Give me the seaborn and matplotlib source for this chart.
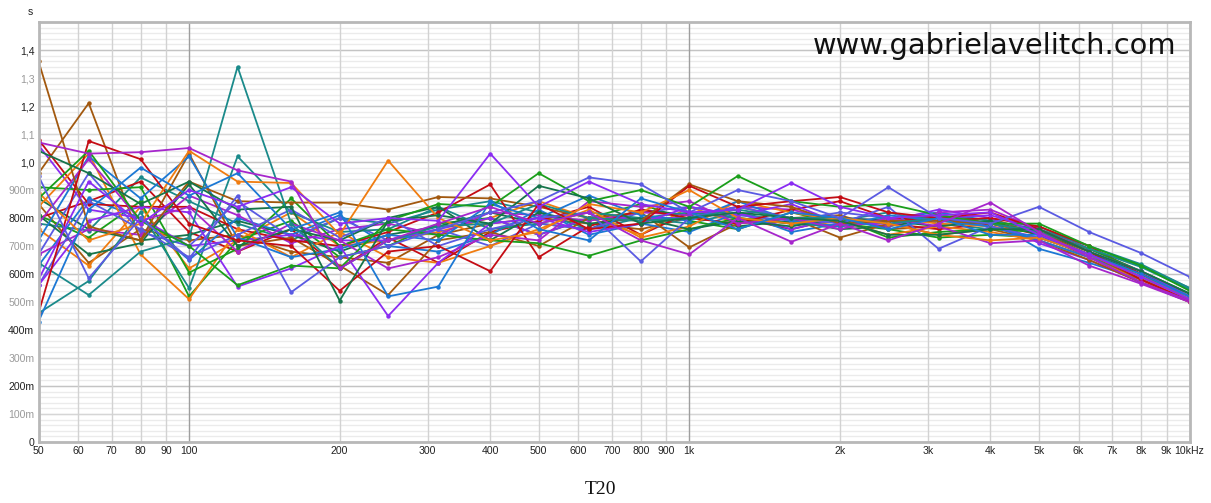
import matplotlib
matplotlib.use("Agg")
import matplotlib.pyplot as plt
import pandas as pd
import seaborn as sns
from matplotlib.ticker import FixedLocator, NullLocator

# Third-octave band centres (Hz)
freqs = [50, 63, 80, 100, 125, 160, 200, 250, 315, 400, 500, 630,
         800, 1000, 1250, 1600, 2000, 2500, 3150, 4000, 5000, 6300, 8000, 10000]

# Axis ticks and labels
x_ticks = [50, 60, 70, 80, 90, 100, 200, 300, 400, 500, 600, 700, 800, 900,
           1000, 2000, 3000, 4000, 5000, 6000, 7000, 8000, 9000, 10000]
x_labels = ["50", "60", "70", "80", "90", "100", "200", "300", "400", "500",
            "600", "700", "800", "900", "1k", "2k", "3k", "4k", "5k", "6k",
            "7k", "8k", "9k", "10kHz"]
y_ticks = [0.0, 0.1, 0.2, 0.3, 0.4, 0.5, 0.6, 0.7, 0.8, 0.9, 1.0, 1.1, 1.2, 1.3, 1.4]
y_labels = ["0", "100m", "200m", "300m", "400m", "500m", "600m", "700m",
            "800m", "900m", "1,0", "1,1", "1,2", "1,3", "1,4"]

# T20 per measurement position (s)
brown_a = [1.36, 0.77, 0.72, 0.93, 0.86, 0.855, 0.855, 0.83, 0.875, 0.87, 0.84, 0.80,
           0.79, 0.92, 0.86, 0.84, 0.78, 0.79, 0.79, 0.78, 0.75, 0.67, 0.58, 0.51]
brown_b = [0.96, 1.21, 0.72, 1.03, 0.70, 0.73, 0.63, 0.525, 0.72, 0.75, 0.70, 0.80,
           0.82, 0.695, 0.78, 0.80, 0.73, 0.78, 0.74, 0.76, 0.72, 0.65, 0.57, 0.50]
brown_c = [0.85, 0.64, 0.76, 0.72, 0.74, 0.68, 0.66, 0.64, 0.74, 0.78, 0.80, 0.78,
           0.76, 0.80, 0.84, 0.80, 0.81, 0.76, 0.77, 0.80, 0.74, 0.66, 0.57, 0.505]
teal_a = [0.64, 0.525, 0.68, 0.73, 1.34, 0.78, 0.62, 0.72, 0.77, 0.78, 0.85, 0.80,
          0.79, 0.80, 0.83, 0.80, 0.80, 0.78, 0.80, 0.78, 0.75, 0.69, 0.63, 0.55]
teal_b = [0.46, 0.575, 0.82, 0.55, 1.02, 0.82, 0.75, 0.76, 0.84, 0.76, 0.78, 0.82,
          0.80, 0.82, 0.80, 0.78, 0.77, 0.79, 0.81, 0.79, 0.76, 0.70, 0.635, 0.55]
teal_c = [0.78, 0.755, 0.945, 0.86, 0.78, 0.72, 0.80, 0.78, 0.83, 0.86, 0.82, 0.76,
          0.80, 0.78, 0.82, 0.78, 0.79, 0.82, 0.78, 0.76, 0.77, 0.69, 0.625, 0.545]
red_a = [0.46, 1.075, 1.01, 0.78, 0.72, 0.70, 0.54, 0.68, 0.70, 0.61, 0.85, 0.76,
         0.78, 0.915, 0.84, 0.86, 0.875, 0.82, 0.80, 0.82, 0.76, 0.68, 0.58, 0.505]
red_b = [1.08, 0.85, 0.84, 0.84, 0.76, 0.72, 0.70, 0.75, 0.82, 0.92, 0.66, 0.77,
         0.83, 0.80, 0.78, 0.83, 0.86, 0.80, 0.79, 0.80, 0.77, 0.70, 0.60, 0.52]
red_c = [0.80, 0.86, 0.93, 0.75, 0.68, 0.76, 0.62, 0.73, 0.64, 0.75, 0.79, 0.84,
         0.74, 0.82, 0.80, 0.76, 0.80, 0.78, 0.76, 0.78, 0.74, 0.67, 0.59, 0.51]
orange_a = [0.89, 0.72, 0.78, 1.04, 0.93, 0.925, 0.74, 1.005, 0.80, 0.72, 0.75, 0.85,
            0.82, 0.90, 0.80, 0.78, 0.80, 0.78, 0.74, 0.72, 0.73, 0.67, 0.59, 0.51]
orange_b = [0.84, 1.03, 0.67, 0.51, 0.76, 0.66, 0.75, 0.66, 0.64, 0.70, 0.76, 0.83,
            0.73, 0.77, 0.86, 0.82, 0.79, 0.74, 0.77, 0.75, 0.72, 0.66, 0.58, 0.50]
orange_c = [0.76, 0.63, 0.84, 0.62, 0.72, 0.82, 0.70, 0.72, 0.75, 0.80, 0.86, 0.80,
            0.74, 0.84, 0.78, 0.80, 0.77, 0.80, 0.78, 0.77, 0.75, 0.68, 0.60, 0.52]
green_a = [0.87, 1.04, 0.79, 0.70, 0.56, 0.63, 0.62, 0.79, 0.85, 0.84, 0.96, 0.86,
           0.90, 0.84, 0.95, 0.86, 0.84, 0.85, 0.81, 0.78, 0.78, 0.70, 0.63, 0.54]
green_b = [0.91, 0.90, 0.91, 0.605, 0.69, 0.87, 0.70, 0.76, 0.74, 0.72, 0.71, 0.665,
           0.72, 0.76, 0.80, 0.78, 0.80, 0.73, 0.75, 0.76, 0.75, 0.69, 0.61, 0.53]
green_c = [0.81, 0.73, 0.86, 0.52, 0.72, 0.79, 0.66, 0.70, 0.78, 0.80, 0.74, 0.80,
           0.85, 0.79, 0.76, 0.82, 0.78, 0.76, 0.73, 0.74, 0.73, 0.67, 0.60, 0.52]
dkgreen_a = [1.04, 0.96, 0.85, 0.93, 0.83, 0.84, 0.505, 0.79, 0.81, 0.78, 0.915, 0.87,
             0.78, 0.80, 0.82, 0.80, 0.79, 0.74, 0.74, 0.76, 0.76, 0.68, 0.61, 0.53]
dkgreen_b = [0.81, 0.67, 0.71, 0.92, 0.70, 0.76, 0.72, 0.80, 0.84, 0.72, 0.82, 0.78,
             0.80, 0.76, 0.79, 0.77, 0.80, 0.79, 0.77, 0.79, 0.74, 0.67, 0.59, 0.52]
dkgreen_c = [0.87, 0.76, 0.72, 0.74, 0.79, 0.74, 0.68, 0.74, 0.77, 0.82, 0.78, 0.76,
             0.83, 0.81, 0.77, 0.79, 0.76, 0.77, 0.80, 0.78, 0.75, 0.68, 0.60, 0.53]
blue_a = [0.43, 0.83, 0.98, 0.88, 0.96, 0.76, 0.82, 0.52, 0.555, 0.86, 0.76, 0.72,
          0.87, 0.82, 0.76, 0.82, 0.80, 0.76, 0.80, 0.74, 0.74, 0.67, 0.60, 0.52]
blue_b = [0.72, 1.02, 0.87, 1.02, 0.73, 0.66, 0.69, 0.74, 0.72, 0.85, 0.80, 0.88,
          0.81, 0.79, 0.86, 0.79, 0.77, 0.81, 0.79, 0.77, 0.72, 0.66, 0.59, 0.51]
blue_c = [0.63, 0.87, 0.80, 0.65, 0.80, 0.74, 0.81, 0.70, 0.68, 0.74, 0.83, 0.74,
          0.78, 0.75, 0.82, 0.75, 0.78, 0.80, 0.82, 0.79, 0.69, 0.64, 0.58, 0.51]
slate_a = [0.95, 0.585, 0.80, 0.655, 0.88, 0.535, 0.66, 0.70, 0.76, 0.82, 0.86, 0.945,
           0.92, 0.82, 0.90, 0.86, 0.80, 0.91, 0.80, 0.78, 0.84, 0.75, 0.675, 0.59]
slate_b = [0.56, 0.86, 0.76, 0.66, 0.74, 0.83, 0.73, 0.80, 0.70, 0.76, 0.80, 0.82,
           0.645, 0.80, 0.84, 0.80, 0.78, 0.84, 0.69, 0.77, 0.73, 0.67, 0.59, 0.52]
slate_c = [0.67, 0.96, 0.75, 0.70, 0.86, 0.73, 0.80, 0.72, 0.76, 0.70, 0.78, 0.76,
           0.82, 0.84, 0.81, 0.79, 0.82, 0.80, 0.80, 0.77, 0.72, 0.66, 0.59, 0.51]
violet_a = [0.58, 0.93, 0.78, 0.90, 0.84, 0.91, 0.78, 0.80, 0.79, 1.03, 0.84, 0.93,
            0.85, 0.82, 0.83, 0.925, 0.84, 0.80, 0.81, 0.82, 0.74, 0.67, 0.59, 0.51]
violet_b = [0.56, 0.79, 0.84, 0.82, 0.555, 0.62, 0.70, 0.45, 0.64, 0.78, 0.80, 0.75,
            0.78, 0.84, 0.81, 0.85, 0.78, 0.78, 0.80, 0.81, 0.76, 0.68, 0.61, 0.52]
violet_c = [1.06, 0.83, 0.80, 0.70, 0.72, 0.74, 0.72, 0.72, 0.76, 0.80, 0.74, 0.80,
            0.80, 0.80, 0.82, 0.76, 0.80, 0.79, 0.83, 0.80, 0.71, 0.65, 0.57, 0.50]
purple_a = [1.07, 1.03, 1.035, 1.05, 0.97, 0.93, 0.62, 0.72, 0.78, 0.84, 0.78, 0.82,
            0.72, 0.67, 0.80, 0.715, 0.78, 0.72, 0.78, 0.855, 0.75, 0.66, 0.57, 0.505]
purple_b = [0.78, 1.01, 0.79, 0.84, 0.68, 0.78, 0.72, 0.62, 0.66, 0.74, 0.72, 0.86,
            0.84, 0.86, 0.78, 0.80, 0.76, 0.80, 0.77, 0.71, 0.72, 0.63, 0.565, 0.50]
purple_c = [0.67, 0.76, 0.74, 0.88, 0.81, 0.71, 0.76, 0.78, 0.74, 0.82, 0.81, 0.79,
            0.82, 0.81, 0.84, 0.83, 0.79, 0.77, 0.82, 0.83, 0.76, 0.69, 0.61, 0.53]

RED, ORANGE, BROWN = "#c40c14", "#f07c10", "#a2580e"
GREEN, DKGREEN, TEAL = "#1a9e1a", "#15744a", "#1a8a8a"
BLUE, SLATE, VIOLET, PURPLE = "#1c78d4", "#5a5ae2", "#8a2cf2", "#a626cc"

curves = [
    ("brown_c", BROWN, brown_c), ("teal_c", TEAL, teal_c), ("red_c", RED, red_c),
    ("orange_c", ORANGE, orange_c), ("green_c", GREEN, green_c),
    ("dkgreen_c", DKGREEN, dkgreen_c), ("blue_c", BLUE, blue_c),
    ("slate_c", SLATE, slate_c), ("violet_c", VIOLET, violet_c),
    ("purple_c", PURPLE, purple_c),
    ("brown_b", BROWN, brown_b), ("teal_b", TEAL, teal_b), ("red_b", RED, red_b),
    ("orange_b", ORANGE, orange_b), ("green_b", GREEN, green_b),
    ("dkgreen_b", DKGREEN, dkgreen_b), ("blue_b", BLUE, blue_b),
    ("slate_b", SLATE, slate_b), ("violet_b", VIOLET, violet_b),
    ("purple_b", PURPLE, purple_b),
    ("brown_a", BROWN, brown_a), ("teal_a", TEAL, teal_a), ("red_a", RED, red_a),
    ("orange_a", ORANGE, orange_a), ("green_a", GREEN, green_a),
    ("dkgreen_a", DKGREEN, dkgreen_a), ("blue_a", BLUE, blue_a),
    ("slate_a", SLATE, slate_a), ("violet_a", VIOLET, violet_a),
    ("purple_a", PURPLE, purple_a),
]

rows = []
for name, _, vals in curves:
    for f, v in zip(freqs, vals):
        rows.append({"position": name, "freq": f, "t20": v})
df = pd.DataFrame(rows)
palette = {name: col for name, col, _ in curves}

sns.set_style("white")
plt.rcParams["font.family"] = ["Liberation Sans", "DejaVu Sans"]

W, H = 1211, 503
fig = plt.figure(figsize=(W / 100, H / 100), dpi=100)
x0, x1, ytop, ybot = 38.5, 1189.5, 22, 442
ax = fig.add_axes([x0 / W, (H - ybot) / H, (x1 - x0) / W, (ybot - ytop) / H])

ax.set_xscale("log")
ax.set_xlim(50, 10000)
ax.set_ylim(0, 1.5)

# background grid
for v in [i * 0.02 for i in range(76)]:
    ax.axhline(v, color="#ebebeb", lw=1.0, zorder=0)
for v in y_ticks:
    ax.axhline(v, color="#d6d6d6" if round(v * 10) % 2 else "#c4c4c4", lw=1.0, zorder=0)
for f in x_ticks:
    strong = f in (100, 1000)
    ax.axvline(f, color="#9e9e9e" if strong else "#d2d2d2", lw=1.0, zorder=0.5)

sns.lineplot(data=df, x="freq", y="t20", hue="position", palette=palette,
             units="position", estimator=None, sort=False, legend=False,
             marker="o", markersize=3.2, markeredgewidth=0, linewidth=1.3, ax=ax)

ax.xaxis.set_major_locator(FixedLocator(x_ticks))
ax.xaxis.set_minor_locator(NullLocator())
ax.set_xticklabels(x_labels)
ax.set_yticks(y_ticks)
ax.set_yticklabels(y_labels)
ax.tick_params(axis="both", length=0, labelsize=7.6, colors="#222222")
ax.tick_params(axis="x", pad=3)
ax.tick_params(axis="y", pad=3)
for i, lab in enumerate(ax.get_yticklabels()):
    lab.set_color("#222222" if i % 2 == 0 else "#9a9a9a")
ax.set_xlabel("")
ax.set_ylabel("")

for side in ("left", "bottom", "right", "top"):
    ax.spines[side].set_visible(True)
    ax.spines[side].set_color("#b8b8b8")
    ax.spines[side].set_linewidth(2.0)

fig.text(30 / W, 1 - 12 / H, "s", fontsize=7.6, color="#222222", ha="center", va="center")

ax.text(1176 / W, 1 - 46 / H, "www.gabrielavelitch.com", transform=fig.transFigure,
        fontsize=20.8, family=["DejaVu Sans"], color="#111111",
        ha="right", va="center", zorder=10)

fig.text(600 / W, 1 - 490 / H, "T20", fontsize=14, family=["Liberation Serif"],
         color="#111111", ha="center", va="center")

fig.savefig("out.png", dpi=100, facecolor="white")
